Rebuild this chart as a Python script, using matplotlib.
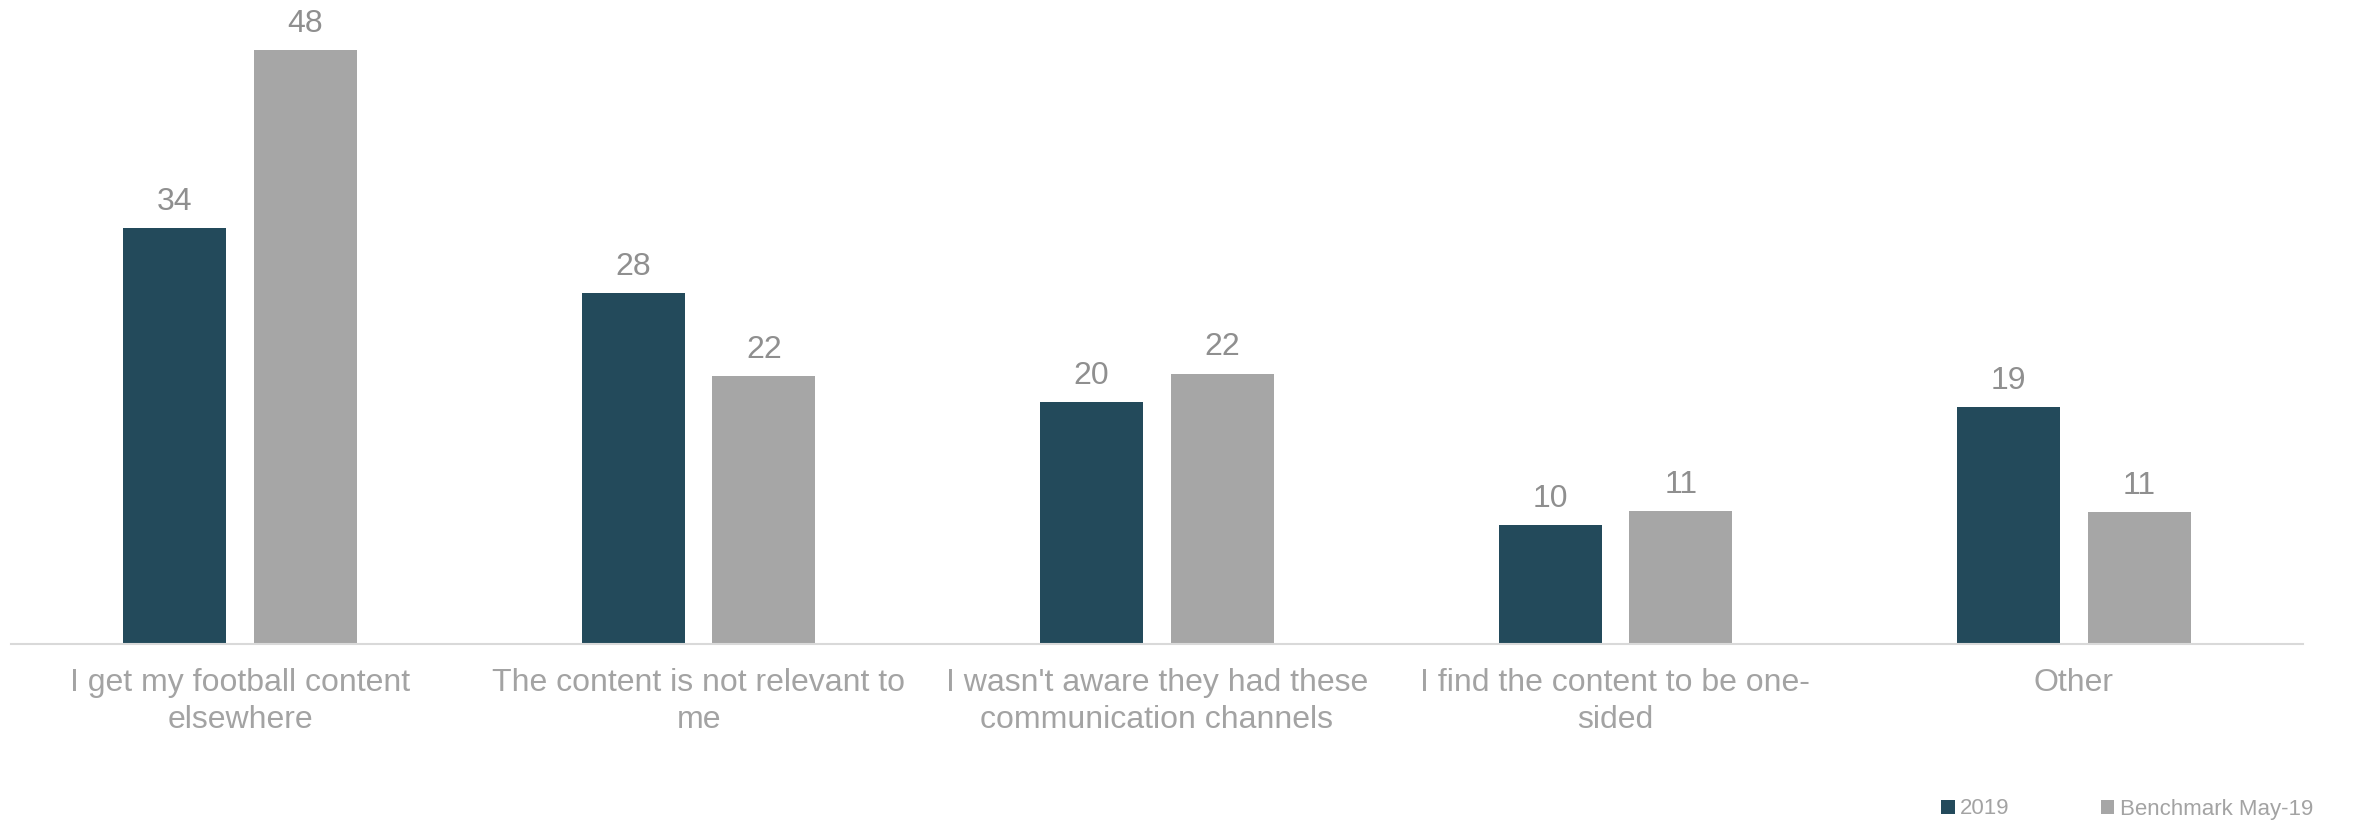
import numpy as np
import matplotlib
matplotlib.use("Agg")
import matplotlib.pyplot as plt

plt.rcParams['font.family'] = ['Liberation Sans', 'DejaVu Sans']

categories = ["I get my football content\nelsewhere",
              "The content is not relevant to\nme",
              "I wasn't aware they had these\ncommunication channels",
              "I find the content to be one-\nsided",
              "Other"]
series_names = ["2019", "Benchmark May-19"]
vals_2019 = [33.7, 28.4, 19.6, 9.6, 19.2]
vals_bench = [48.1, 21.7, 21.9, 10.8, 10.7]

c_2019 = '#234a5b'
c_bench = '#a6a6a6'
label_grey = '#8f8f8f'
tick_grey = '#a3a3a3'

fig = plt.figure(figsize=(23.59, 8.25), dpi=100)
ax = fig.add_axes([11 / 2359, 181 / 825, (2303 - 11) / 2359, 50 * 12.35 / 825])

x = np.arange(len(categories))
w = 0.225
off = 0.1425
b1 = ax.bar(x - off, vals_2019, w, color=c_2019, label=series_names[0])
b2 = ax.bar(x + off, vals_bench, w, color=c_bench, label=series_names[1])

for bars in (b1, b2):
    for r in bars:
        h = r.get_height()
        ax.annotate(f"{round(h):d}", (r.get_x() + r.get_width() / 2, h),
                    xytext=(0, 8), textcoords='offset points',
                    ha='center', va='bottom', fontsize=23, color=label_grey)

ax.set_xlim(-0.5, len(categories) - 0.5)
ax.set_ylim(0, 50)

ax.set_xticks(x)
ax.set_xticklabels(categories, fontsize=23, color=tick_grey, linespacing=1.3)
ax.tick_params(axis='x', length=0, pad=17)
ax.set_yticks([])
for s in ['top', 'right', 'left']:
    ax.spines[s].set_visible(False)
ax.spines['bottom'].set_color('#d9d9d9')
ax.spines['bottom'].set_linewidth(1.5)

leg = fig.legend(handles=[b1, b2], labels=series_names, ncol=2,
                 loc='center right', bbox_to_anchor=(2313 / 2359, 16 / 825),
                 frameon=False, fontsize=16, handlelength=0.6, handleheight=0.6,
                 handletextpad=0.25, columnspacing=4.1, borderaxespad=0, borderpad=0)
for t in leg.get_texts():
    t.set_color(tick_grey)

plt.savefig('out.png', dpi=100)
